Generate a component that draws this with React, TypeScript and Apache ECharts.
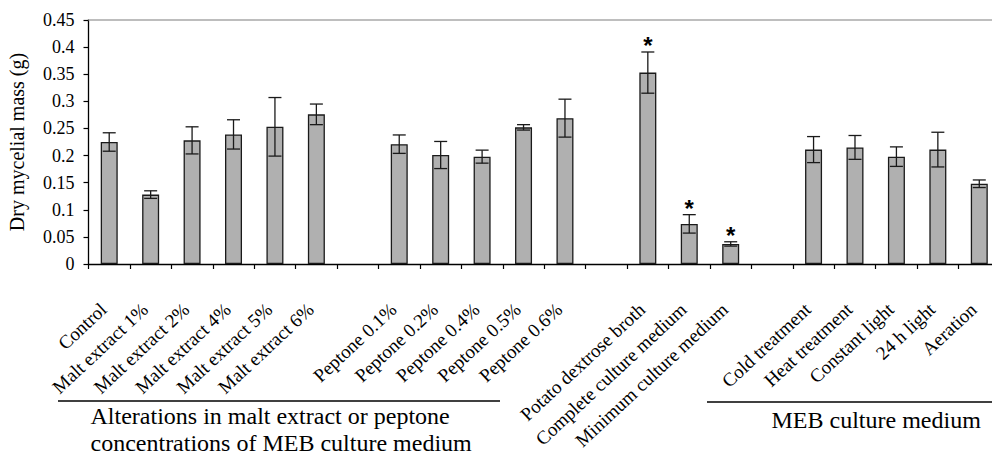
import React, { useEffect, useRef } from "react";
import * as echarts from "echarts";

const categories = [
  "Control", "Malt extract 1%", "Malt extract 2%", "Malt extract 4%", "Malt extract 5%", "Malt extract 6%",
  " ",
  "Peptone 0.1%", "Peptone 0.2%", "Peptone 0.4%", "Peptone 0.5%", "Peptone 0.6%",
  "  ",
  "Potato dextrose broth", "Complete culture medium", "Minimum culture medium",
  "   ",
  "Cold treatment", "Heat treatment", "Constant light", "24 h light", "Aeration",
];
const means = [
  0.225, 0.128, 0.228, 0.239, 0.253, 0.276,
  null,
  0.221, 0.201, 0.198, 0.252, 0.269,
  null,
  0.353, 0.074, 0.037,
  null,
  0.211, 0.215, 0.198, 0.211, 0.148,
];
const errors = [
  0.017, 0.007, 0.025, 0.027, 0.054, 0.019,
  null,
  0.017, 0.025, 0.012, 0.005, 0.035,
  null,
  0.038, 0.017, 0.004,
  null,
  0.024, 0.022, 0.018, 0.032, 0.007,
];
const significant = [
  false, false, false, false, false, false,
  false,
  false, false, false, false, false,
  false,
  true, true, true,
  false,
  false, false, false, false, false,
];
const yTicks = { min: 0, max: 0.45, interval: 0.05 };
const yAxisTitle = "Dry mycelial mass (g)";
const groupTitleLeft = ["Alterations in malt extract or peptone", "concentrations of MEB culture medium"];
const groupTitleRight = "MEB culture medium";

const SERIF = "Liberation Serif";
const SANS = "Liberation Sans";

export default function App() {
  const ref = useRef<HTMLDivElement>(null);
  useEffect(() => {
    if (!ref.current) return;
    const chart = echarts.init(ref.current, undefined, { renderer: "svg" });
    const errData = means
      .map((m, i) => (m == null ? null : [i, m, errors[i], significant[i] ? 1 : 0]))
      .filter((d) => d != null);
    chart.setOption({
      animation: false,
      backgroundColor: "#fff",
      grid: { left: 88.5, right: 0, top: 20, bottom: 191, containLabel: false, outerBoundsMode: "none" },
      xAxis: [
        {
          type: "category",
          data: categories,
          position: "bottom",
          axisLine: { lineStyle: { color: "#000", width: 1.3 } },
          axisTick: { show: true, length: 5, lineStyle: { color: "#000", width: 1.2 } },
          axisLabel: {
            interval: 0,
            rotate: 43,
            margin: 37,
            padding: [0, 8, 0, 0],
            fontFamily: SERIF,
            fontSize: 19,
            color: "#000",
          },
          splitLine: { show: false },
        },
        {
          type: "category",
          data: categories,
          position: "top",
          axisLine: { lineStyle: { color: "#a8a8a8", width: 1.5 } },
          axisTick: { show: false },
          axisLabel: { show: false },
          splitLine: { show: false },
        },
      ],
      yAxis: {
        type: "value",
        min: yTicks.min,
        max: yTicks.max,
        interval: yTicks.interval,
        name: yAxisTitle,
        nameLocation: "middle",
        nameRotate: 90,
        nameGap: 62,
        nameTextStyle: { fontFamily: SERIF, fontSize: 20, color: "#000" },
        axisLine: { show: true, lineStyle: { color: "#000", width: 1.3 } },
        axisTick: { show: true, length: 5, lineStyle: { color: "#000", width: 1.2 } },
        axisLabel: {
          margin: 14,
          fontFamily: SERIF,
          fontSize: 18,
          color: "#000",
          formatter: (v: number) => String(+v.toFixed(2)),
        },
        splitLine: { show: false },
      },
      series: [
        {
          type: "bar",
          data: means,
          barWidth: 17,
          itemStyle: { color: "#b0b0b0", borderColor: "#1a1a1a", borderWidth: 1.3 },
        },
        {
          type: "custom",
          data: errData,
          z: 10,
          renderItem: (params: any, api: any) => {
            const x = api.value(0);
            const m = api.value(1);
            const e = api.value(2);
            const sig = api.value(3);
            const top = api.coord([x, m + e]);
            const bot = api.coord([x, m - e]);
            const hw = 6.5;
            const st = { stroke: "#1a1a1a", lineWidth: 1.3 };
            const children: any[] = [
              { type: "line", shape: { x1: top[0], y1: top[1], x2: top[0], y2: bot[1] }, style: st },
              { type: "line", shape: { x1: top[0] - hw, y1: top[1], x2: top[0] + hw, y2: top[1] }, style: st },
              { type: "line", shape: { x1: bot[0] - hw, y1: bot[1], x2: bot[0] + hw, y2: bot[1] }, style: st },
            ];
            if (sig) {
              children.push({
                type: "text",
                x: top[0],
                y: top[1] - 6.5,
                style: {
                  text: "*",
                  fontFamily: SANS,
                  fontWeight: "bold",
                  fontSize: 24,
                  fill: "#000",
                  align: "center",
                  verticalAlign: "middle",
                },
              });
            }
            return { type: "group", children };
          },
        },
      ],
      graphic: [
        { type: "line", shape: { x1: 58, y1: 401, x2: 500, y2: 401 }, style: { stroke: "#000", lineWidth: 1.5 } },
        { type: "line", shape: { x1: 707, y1: 402, x2: 1000, y2: 402 }, style: { stroke: "#000", lineWidth: 1.5 } },
        {
          type: "text",
          x: 90.5,
          y: 415.5,
          style: { text: groupTitleLeft[0], fontFamily: SERIF, fontSize: 24, fill: "#000", align: "left", verticalAlign: "middle" },
        },
        {
          type: "text",
          x: 90.5,
          y: 443,
          style: { text: groupTitleLeft[1], fontFamily: SERIF, fontSize: 24, fill: "#000", align: "left", verticalAlign: "middle" },
        },
        {
          type: "text",
          x: 771.5,
          y: 419.5,
          style: { text: groupTitleRight, fontFamily: SERIF, fontSize: 24, fill: "#000", align: "left", verticalAlign: "middle" },
        },
      ],
    });
    return () => chart.dispose();
  }, []);
  return (
    <div style={{ position: "fixed", left: 0, top: 0, width: 992, height: 455, overflow: "hidden", background: "#fff" }}>
      <div ref={ref} style={{ width: 1000, height: 455 }} />
    </div>
  );
}
